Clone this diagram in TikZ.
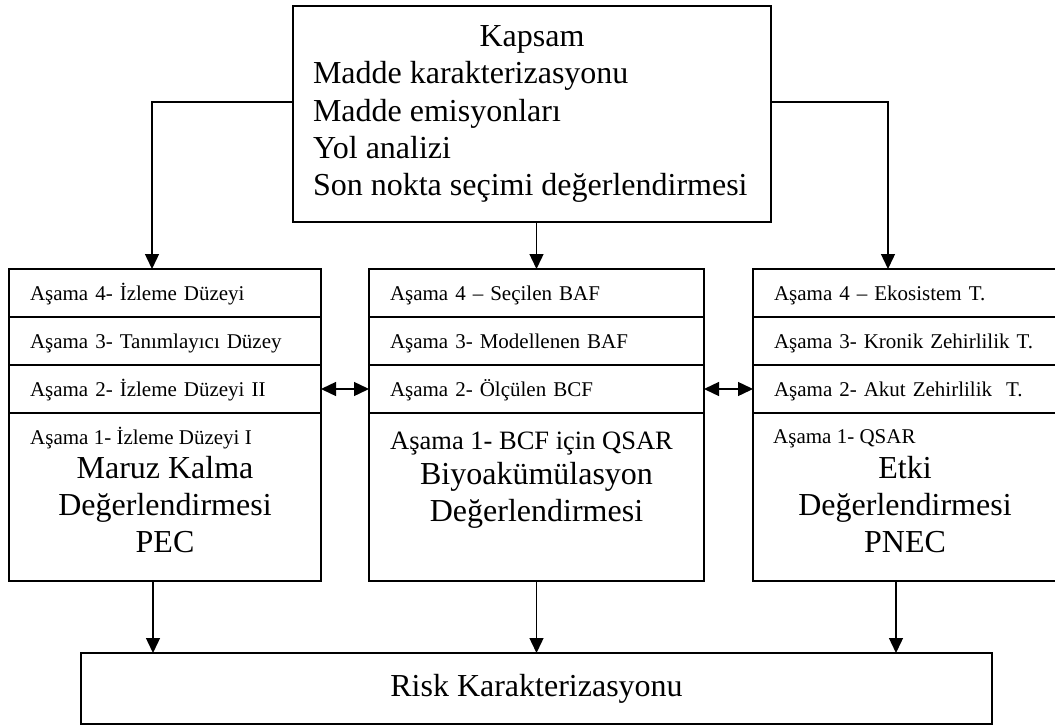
\documentclass[tikz,border=0pt]{standalone}
\usepackage{fontspec}
\setmainfont{Liberation Serif}
\usetikzlibrary{arrows.meta}
\begin{document}
\begin{tikzpicture}[x=1pt,y=-1pt,
  frame/.style={draw, line width=1.6pt, rectangle, inner sep=0pt, outer sep=0pt},
  stagerow/.style={frame, anchor=north west, minimum height=48pt, inner xsep=21pt,
    text height=14pt, text depth=0pt, align=left, font=\fontsize{21}{25}\selectfont},
  cell/.style={frame, anchor=north west, minimum height=168pt},
  smalltxt/.style={inner sep=0pt, anchor=base west, font=\fontsize{21}{25}\selectfont},
  bigtxt/.style={inner sep=0pt, anchor=base, align=center, font=\fontsize{32}{37}\selectfont},
  arr/.style={line width=1.4pt, -{Triangle[length=15pt,width=14pt]}},
  darr/.style={line width=1.4pt, {Triangle[length=15pt,width=14pt]}-{Triangle[length=15pt,width=14pt]}}
]
\useasboundingbox (0,0) rectangle (1055,725);

% scope box
\node[frame, minimum width=478pt, minimum height=216pt, align=left,
      font=\fontsize{32}{37.2}\selectfont] (kapsam) at (532,114)
  {\makebox[438pt]{Kapsam}\\Madde karakterizasyonu\\Madde emisyonları\\Yol analizi\\Son nokta seçimi değerlendirmesi};

% exposure column
\node[stagerow, text width=270pt] (L4) at (9,269) {Aşama 4- İzleme Düzeyi};
\node[stagerow, text width=270pt] (L3) at (9,317) {Aşama 3- Tanımlayıcı Düzey};
\node[stagerow, text width=270pt] (L2) at (9,365) {Aşama 2- İzleme Düzeyi II};
\node[cell, minimum width=312pt] (L1) at (9,413) {};
\node[smalltxt] (L1s) at ([xshift=21pt,yshift=-31pt]L1.north west) {Aşama 1- İzleme Düzeyi I};
\node[bigtxt] (L1b) at ([yshift=-139pt]L1.north) {Maruz Kalma\\Değerlendirmesi\\PEC};

% bioaccumulation column
\node[stagerow, text width=293pt] (M4) at (369,269) {Aşama 4 – Seçilen BAF};
\node[stagerow, text width=293pt] (M3) at (369,317) {Aşama 3- Modellenen BAF};
\node[stagerow, text width=293pt] (M2) at (369,365) {Aşama 2- Ölçülen BCF};
\node[cell, minimum width=335pt] (M1) at (369,413) {};
\node[smalltxt, font=\fontsize{26.5}{31}\selectfont] (M1s) at ([xshift=21pt,yshift=-36pt]M1.north west) {Aşama 1- BCF için QSAR};
\node[bigtxt] (M1b) at ([yshift=-108pt]M1.north) {Biyoakümülasyon\\Değerlendirmesi};

% effects column
\node[stagerow, text width=262pt] (R4) at (753,269) {Aşama 4 – Ekosistem T.};
\node[stagerow, text width=262pt] (R3) at (753,317) {Aşama 3- Kronik Zehirlilik T.};
\node[stagerow, text width=262pt] (R2) at (753,365) {Aşama 2- Akut Zehirlilik\ \ T.};
\node[cell, minimum width=304pt] (R1) at (753,413) {};
\node[smalltxt] (R1s) at ([xshift=20pt,yshift=-30pt]R1.north west) {Aşama 1- QSAR};
\node[bigtxt] (R1b) at ([yshift=-139pt]R1.north) {Etki\\Değerlendirmesi\\PNEC};

% risk characterisation
\node[frame, minimum width=911pt, minimum height=71pt, font=\fontsize{32}{36}\selectfont] (risk) at (536.5,688.5) {Risk Karakterizasyonu};

% connectors
\draw[arr] ([yshift=12pt]kapsam.west) -| ([xshift=-13pt]L4.north);
\draw[arr] ([yshift=12pt]kapsam.east) -| ([xshift=-17pt]R4.north);
\draw[arr] (kapsam.south -| M4.north) -- (M4.north);
\draw[darr] (L2.east) -- (M2.west);
\draw[darr] (M2.east) -- (R2.west);
\draw[arr] ([xshift=-12pt]L1.south) -- ([xshift=-12pt]L1.south |- risk.north);
\draw[arr] (M1.south) -- (M1.south |- risk.north);
\draw[arr] ([xshift=-9pt]R1.south) -- ([xshift=-9pt]R1.south |- risk.north);
\end{tikzpicture}
\end{document}
